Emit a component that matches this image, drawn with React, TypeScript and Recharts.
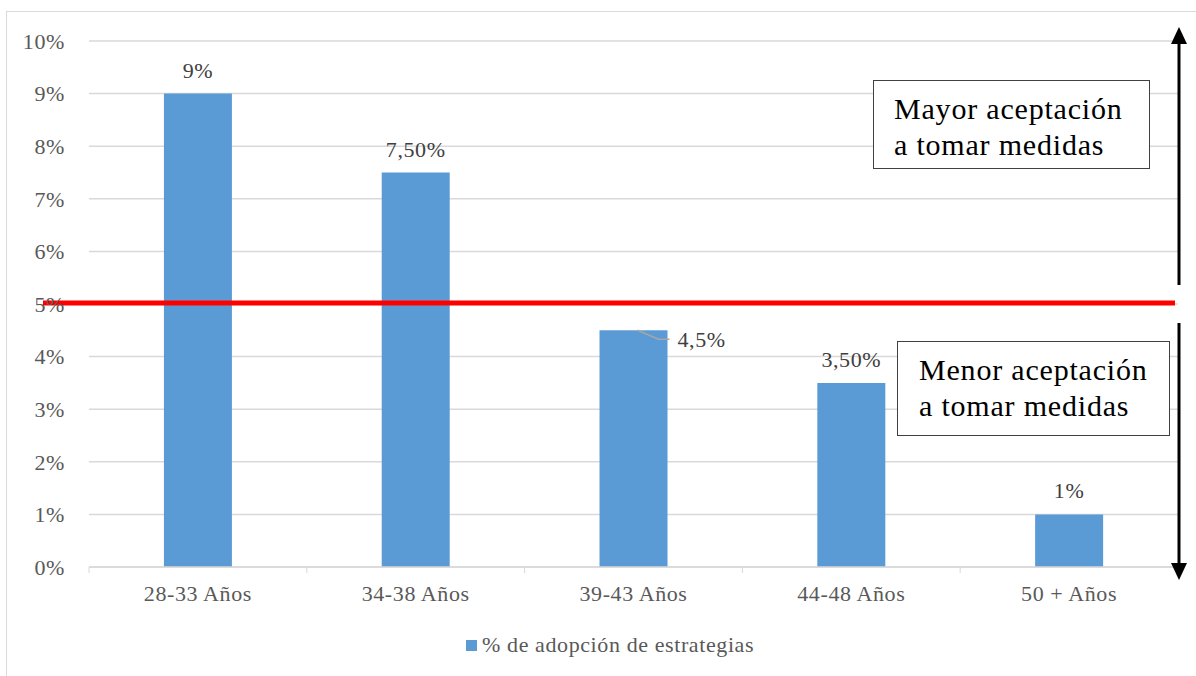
import { BarChart, Bar, XAxis, YAxis, CartesianGrid, ReferenceLine, LabelList } from "recharts"

// Data
const categories = ["28-33 Años", "34-38 Años", "39-43 Años", "44-48 Años", "50 + Años"]
const adoption = [9, 7.5, 4.5, 3.5, 1]
const valueLabels = ["9%", "7,50%", "4,5%", "3,50%", "1%"]
const yTicks = [0, 1, 2, 3, 4, 5, 6, 7, 8, 9, 10]
const threshold = 5
const seriesName = "% de adopción de estrategias"
const leaderLabelCategory = "39-43 Años"
const upperNote = ["Mayor aceptación", "a tomar medidas"]
const lowerNote = ["Menor aceptación", "a tomar medidas"]

const data = categories.map((name, i) => ({ name, value: adoption[i], label: valueLabels[i] }))

const W = 1196
const H = 676
const MARGIN = { top: 41, right: 18, bottom: 79, left: 29 }
const Y_AXIS_W = 60
const PLOT_LEFT = MARGIN.left + Y_AXIS_W
const PLOT_RIGHT = W - MARGIN.right
const HALF_BAND = (PLOT_RIGHT - PLOT_LEFT) / categories.length / 2

const FONT = "Liberation Serif"
const FS = 22
const LS = 0.6
const AXIS_COLOR = "#595959"
const GRID_COLOR = "#d9d9d9"
const BAR_COLOR = "#5b9bd5"

function CategoryTick(props: any) {
    const { x, y, payload, index } = props
    const isLast = index === categories.length - 1
    return (
        <g>
            <line x1={x - HALF_BAND} y1={y - 8} x2={x - HALF_BAND} y2={y - 2} stroke={GRID_COLOR} />
            {isLast && <line x1={x + HALF_BAND} y1={y - 8} x2={x + HALF_BAND} y2={y - 2} stroke={GRID_COLOR} />}
            <text x={x} y={y + 26} textAnchor="middle" fill={AXIS_COLOR} fontSize={FS} fontFamily={FONT} letterSpacing={LS}>
                {payload.value}
            </text>
        </g>
    )
}

function ValueLabel(props: any) {
    const { x, y, width, index } = props
    const row = data[index]
    if (row.name === leaderLabelCategory) {
        const sx = x + width / 2 + 4
        return (
            <g>
                <polyline
                    points={`${sx},${y} ${x + width - 9},${y + 9} ${x + width + 2},${y + 9}`}
                    fill="none"
                    stroke="#a6a6a6"
                    strokeWidth={1.5}
                />
                <text x={x + width + 10} y={y + 17} fill="#404040" fontSize={FS} fontFamily={FONT} letterSpacing={LS}>
                    {row.label}
                </text>
            </g>
        )
    }
    return (
        <text x={x + width / 2} y={y - 16} textAnchor="middle" fill="#404040" fontSize={FS} fontFamily={FONT} letterSpacing={LS}>
            {row.label}
        </text>
    )
}

// red threshold line, reaches a bit into the y axis labels like the original
function ThresholdLine(props: any) {
    const { x1, x2, y1, y2 } = props
    return <line x1={x1 - 46} y1={y1 - 1} x2={x2 - 3} y2={y2 - 1} stroke="#ff0000" strokeWidth={5} />
}

function NoteBox({ lines, left, top, width, height, padLeft }: any) {
    return (
        <div
            style={{
                position: "absolute",
                left,
                top,
                width,
                height,
                boxSizing: "border-box",
                border: "1.5px solid #404040",
                background: "#fff",
                paddingLeft: padLeft,
                paddingTop: 10,
                fontFamily: FONT,
                fontSize: 30,
                letterSpacing: 0.8,
                lineHeight: "36px",
                color: "#000",
                whiteSpace: "nowrap",
            }}
        >
            {lines.map((l: string) => (
                <div key={l}>{l}</div>
            ))}
        </div>
    )
}

export default function App() {
    return (
        <div style={{ position: "absolute", left: 0, top: 0, width: W, height: H, background: "#fff", overflow: "hidden" }}>
            <div
                style={{
                    position: "absolute",
                    left: 6,
                    top: 11,
                    width: W,
                    height: H,
                    borderLeft: `1px solid ${GRID_COLOR}`,
                    borderTop: `1px solid ${GRID_COLOR}`,
                }}
            />
            <div style={{ position: "absolute", left: 0, top: 0 }}>
                <BarChart width={W} height={H} data={data} margin={MARGIN} barCategoryGap="34.4%">
                    <CartesianGrid horizontal vertical={false} stroke={GRID_COLOR} strokeWidth={1.5} />
                    <XAxis
                        dataKey="name"
                        height={30}
                        axisLine={{ stroke: GRID_COLOR, strokeWidth: 1.5 }}
                        tickLine={false}
                        tick={<CategoryTick />}
                        interval={0}
                    />
                    <YAxis
                        width={Y_AXIS_W}
                        domain={[0, 10]}
                        ticks={yTicks}
                        interval={0}
                        axisLine={false}
                        tickLine={false}
                        tickSize={0}
                        tickMargin={24}
                        tickFormatter={(v: number) => `${v}%`}
                        tick={{ fill: AXIS_COLOR, fontSize: FS, fontFamily: FONT, letterSpacing: LS }}
                    />
                    <Bar dataKey="value" name={seriesName} fill={BAR_COLOR} isAnimationActive={false}>
                        <LabelList dataKey="value" content={<ValueLabel />} />
                    </Bar>
                    <ReferenceLine y={threshold} shape={<ThresholdLine />} />
                </BarChart>
            </div>

            {/* annotation boxes */}
            <NoteBox lines={upperNote} left={873} top={80} width={277} height={89} padLeft={20} />
            <NoteBox lines={lowerNote} left={897} top={341} width={273} height={95} padLeft={21} />

            {/* direction arrows */}
            <svg style={{ position: "absolute", left: 0, top: 0 }} width={W} height={H}>
                <line x1={1179} y1={40} x2={1179} y2={285} stroke="#000" strokeWidth={3} />
                <polygon points="1171,44 1187,44 1179,27" fill="#000" />
                <line x1={1179} y1={323} x2={1179} y2={566} stroke="#000" strokeWidth={3} />
                <polygon points="1171,563 1187,563 1179,580" fill="#000" />
            </svg>

            {/* legend */}
            <div
                style={{
                    position: "absolute",
                    left: 466,
                    top: 632,
                    display: "flex",
                    alignItems: "center",
                    fontFamily: FONT,
                    fontSize: FS,
                    letterSpacing: LS,
                    color: AXIS_COLOR,
                    whiteSpace: "nowrap",
                }}
            >
                <span style={{ width: 11, height: 11, background: BAR_COLOR, display: "inline-block", marginRight: 5 }} />
                {seriesName}
            </div>
        </div>
    )
}
